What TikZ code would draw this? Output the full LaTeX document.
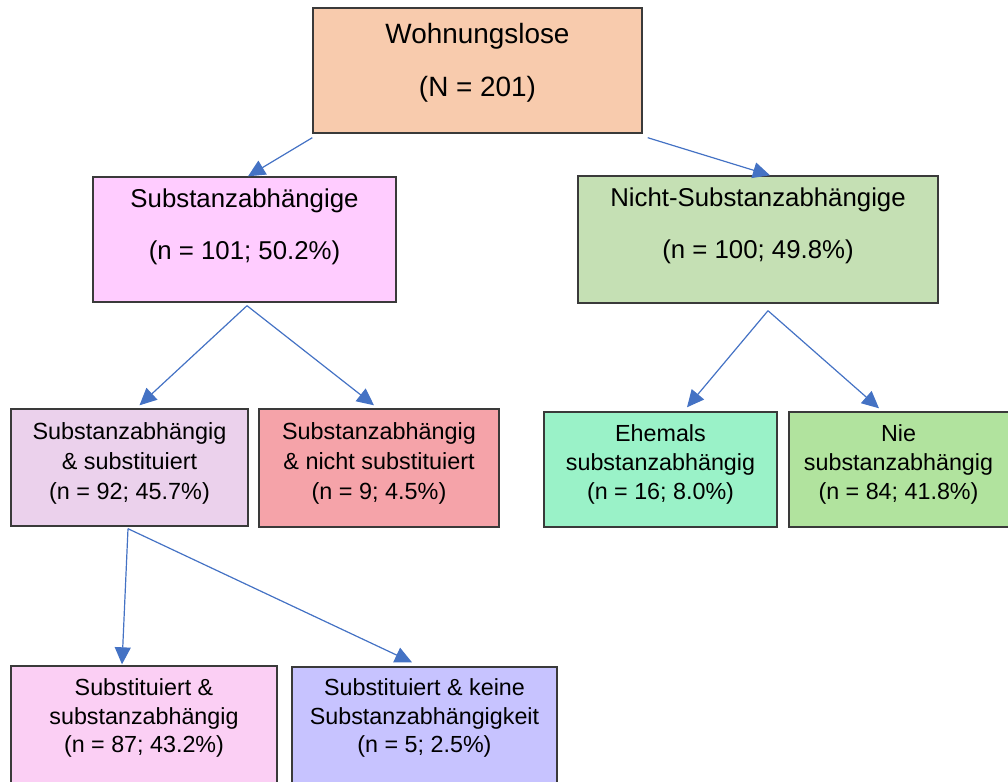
\documentclass[tikz,border=0pt]{standalone}
\usepackage{fontspec}
\setmainfont{Liberation Sans}
\usetikzlibrary{arrows.meta,calc}
\definecolor{cTop}{HTML}{F8CBAD}
\definecolor{cSub}{HTML}{FFCCFF}
\definecolor{cNicht}{HTML}{C5E0B4}
\definecolor{cSubst}{HTML}{EBD1EC}
\definecolor{cNichtSubst}{HTML}{F5A3A9}
\definecolor{cEhem}{HTML}{9AF2C8}
\definecolor{cNie}{HTML}{B1E39E}
\definecolor{cSA}{HTML}{FBCFF4}
\definecolor{cKeine}{HTML}{C7C3FF}
\definecolor{arrowblue}{HTML}{4472C4}
\definecolor{edgegray}{HTML}{3A3A3A}
\tikzset{
  box/.style={draw=edgegray, line width=1.4pt, rectangle, inner sep=0pt},
  txt/.style={align=center, inner sep=0pt, text=black},
  conn/.style={draw=arrowblue, line width=1.2pt, -{Triangle[length=17pt,width=16pt]}},
}
\begin{document}
\begin{tikzpicture}[x=1pt,y=-1pt]
\useasboundingbox (0,0) rectangle (1008,781);
\clip (0,0) rectangle (1008,781);
% boxes
\node[box, fill=cTop, minimum width=329pt, minimum height=125pt] (top) at (477.5,70.5) {};
\node[box, fill=cSub, minimum width=303pt, minimum height=125pt] (sub) at (244.5,239.5) {};
\node[box, fill=cNicht, minimum width=360pt, minimum height=127pt] (nicht) at (758,239.5) {};
\node[box, fill=cSubst, minimum width=237pt, minimum height=117pt] (subst) at (129.5,467.5) {};
\node[box, fill=cNichtSubst, minimum width=240pt, minimum height=118pt] (nsubst) at (379,468) {};
\node[box, fill=cEhem, minimum width=233pt, minimum height=115pt] (ehem) at (660.5,469.5) {};
\node[box, fill=cNie, minimum width=222pt, minimum height=115pt] (nie) at (900,469.5) {};
\node[box, fill=cSA, minimum width=266pt, minimum height=124pt] (sa) at (144,728) {};
\node[box, fill=cKeine, minimum width=265pt, minimum height=124pt] (keine) at (424.5,729) {};
% texts
\node[txt, font=\fontsize{27.9}{53}\selectfont] (toptxt) at (477.5,63) {Wohnungslose\\(N = 201)};
\node[txt, font=\fontsize{25.8}{52}\selectfont] (subtxt) at (244.5,227) {Substanzabhängige\\(n = 101; 50.2\%)};
\node[txt, font=\fontsize{25.8}{52}\selectfont] (nichttxt) at (758,226) {Nicht-Substanzabhängige\\(n = 100; 49.8\%)};
\node[txt, font=\fontsize{23.4}{30}\selectfont] (substtxt) at (129.5,463) {Substanzabhängig\\\& substituiert\\(n = 92; 45.7\%)};
\node[txt, font=\fontsize{23.4}{30}\selectfont] (nsubsttxt) at (379,463) {Substanzabhängig\\\& nicht substituiert\\(n = 9; 4.5\%)};
\node[txt, font=\fontsize{23.3}{29}\selectfont] (ehemtxt) at (660.5,464) {Ehemals\\substanzabhängig\\(n = 16; 8.0\%)};
\node[txt, font=\fontsize{23.3}{29}\selectfont] (nietxt) at (898.5,464) {Nie\\substanzabhängig\\(n = 84; 41.8\%)};
\node[txt, font=\fontsize{23.3}{28.5}\selectfont] (satxt) at (144,718) {Substituiert \&\\substanzabhängig\\(n = 87; 43.2\%)};
\node[txt, font=\fontsize{23.3}{28.5}\selectfont] (keinetxt) at (424.5,718) {Substituiert \& keine\\Substanzabhängigkeit\\(n = 5; 2.5\%)};
% connectors
\draw[conn] ($(top.south west)+(0,4)$) -- ($(sub.north)+(3.5,0)$);
\draw[conn] ($(top.south east)+(5,4)$) -- ($(nicht.north)+(12,0)$);
\draw[conn] ($(sub.south)+(2.5,3)$) -- ($(subst.north)+(10,-3)$);
\draw[conn] ($(sub.south)+(2.5,3)$) -- ($(nsubst.north)+(-5,-3)$);
\draw[conn] ($(nicht.south)+(10,7)$) -- ($(ehem.north)+(26.5,-4)$);
\draw[conn] ($(nicht.south)+(10,7)$) -- ($(nie.north)+(-21,-3)$);
\draw[conn] ($(subst.south)+(-1.5,2)$) -- ($(sa.north)+(-22,-1)$);
\draw[conn] ($(subst.south)+(-1.5,2)$) -- ($(keine.north)+(-12.5,-4)$);
\end{tikzpicture}
\end{document}
